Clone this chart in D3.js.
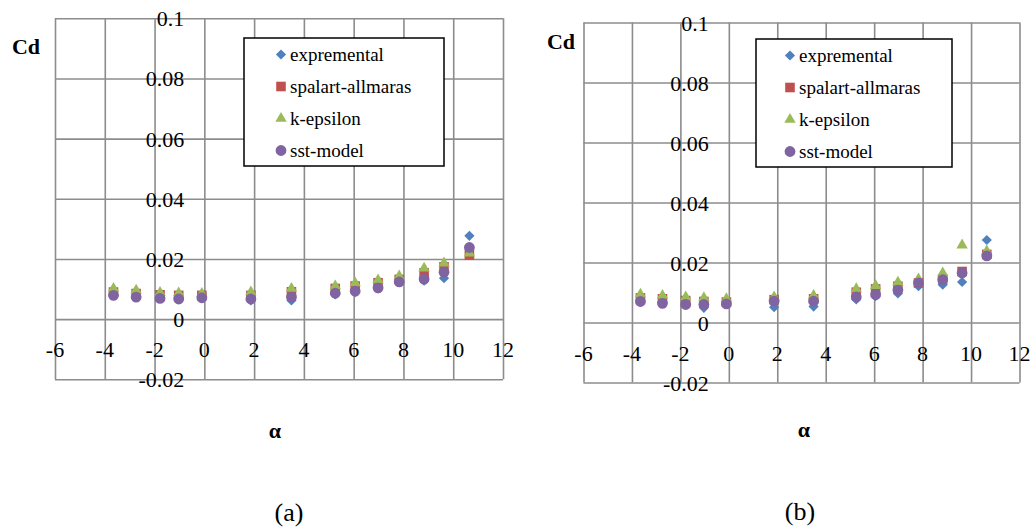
<!DOCTYPE html>
<html>
<head>
<meta charset="utf-8">
<script src="https://cdn.jsdelivr.net/npm/d3@7"></script>
<style>
  body { margin: 0; background: #fff; }
  svg { display: block; }
</style>
</head>
<body>
<svg id="chart" width="1034" height="528"></svg>
<script>
// angle of attack, same for both runs
const alpha = [-3.65, -2.74, -1.78, -1.03, -0.1, 1.87, 3.5, 5.26, 6.06, 6.98, 7.83, 8.83, 9.63, 10.65]

// chart (a)
const expA = [0.0079, 0.0076, 0.0073, 0.0072, 0.0084, 0.0062, 0.0062, 0.0082, 0.009, 0.0102, 0.0125, 0.0128, 0.0136, 0.0277]
const saA = [0.009, 0.0085, 0.0081, 0.0079, 0.0079, 0.0079, 0.0091, 0.0102, 0.011, 0.0121, 0.0132, 0.0154, 0.0174, 0.0213]
const keA = [0.0102, 0.0096, 0.0088, 0.0087, 0.0085, 0.009, 0.0102, 0.011, 0.012, 0.013, 0.0143, 0.0169, 0.0186, 0.0219]
const sstA = [0.0079, 0.0073, 0.0069, 0.0067, 0.0071, 0.0067, 0.0073, 0.0086, 0.0093, 0.0104, 0.0124, 0.0133, 0.0156, 0.0238]

// chart (b)
const expB = [0.007, 0.0065, 0.006, 0.0049, 0.0065, 0.0051, 0.0053, 0.0077, 0.0088, 0.0097, 0.0121, 0.0126, 0.0135, 0.0275]
const saB = [0.0082, 0.0079, 0.0073, 0.007, 0.0068, 0.0076, 0.0079, 0.0101, 0.0112, 0.0121, 0.0132, 0.0145, 0.017, 0.0227]
const keB = [0.0094, 0.009, 0.0085, 0.0082, 0.0079, 0.0085, 0.009, 0.0112, 0.0123, 0.0134, 0.0145, 0.0165, 0.0258, 0.0238]
const sstB = [0.007, 0.0064, 0.006, 0.006, 0.0062, 0.0071, 0.0071, 0.0085, 0.0093, 0.0108, 0.0132, 0.0143, 0.0165, 0.0222]

const seriesNames = ['expremental', 'spalart-allmaras', 'k-epsilon', 'sst-model']
const xTicks = [-6, -4, -2, 0, 2, 4, 6, 8, 10, 12]
const yTicks = [-0.02, 0, 0.02, 0.04, 0.06, 0.08, 0.1]
const yTickLabels = ['-0.02', '0', '0.02', '0.04', '0.06', '0.08', '0.1']

const serif = '"Liberation Serif"'
const colors = ['#4f81bd', '#c0504d', '#9bbb59', '#8064a2']
const shapes = [
  d3.symbol().type(d3.symbolSquare).size(52),   // rotated below -> diamond
  d3.symbol().type(d3.symbolSquare).size(92),
  d3.symbol().type(d3.symbolTriangle).size(56),
  d3.symbol().type(d3.symbolCircle).size(92)
]

const svg = d3.select('#chart')

function label (sel, size, bold) {
  sel.style('font-family', serif)
    .style('font-size', size + 'px')
    .style('font-weight', bold ? 'bold' : 'normal')
  return sel
}

function drawChart (opt) {
  const x = d3.scaleLinear().domain([-6, 12]).range([opt.left, opt.right])
  const y = d3.scaleLinear().domain([-0.02, 0.1]).range([opt.bottom, opt.top])
  const g = svg.append('g')

  // grid via axes
  g.append('g')
    .attr('transform', 'translate(0,' + opt.bottom + ')')
    .call(d3.axisBottom(x).tickValues(xTicks).tickSize(-(opt.bottom - opt.top)).tickFormat(''))
    .call(s => s.select('.domain').remove())
  g.append('g')
    .attr('transform', 'translate(' + opt.left + ',0)')
    .call(d3.axisLeft(y).tickValues(yTicks).tickSize(-(opt.right - opt.left)).tickFormat(''))
    .call(s => s.select('.domain').remove())
  g.selectAll('.tick line').attr('stroke', '#8c8c8c').attr('stroke-width', 1.6)

  // tick labels sit on the axes crossing at 0
  g.append('g').selectAll('text')
    .data(xTicks)
    .join('text')
    .attr('x', d => x(d))
    .attr('y', y(0) + 38)
    .attr('text-anchor', 'middle')
    .call(label, 22)
    .text(d => d)

  g.append('g').selectAll('text')
    .data(yTicks)
    .join('text')
    .attr('x', x(0) - 20)
    .attr('y', d => y(d) + 8)
    .attr('text-anchor', 'end')
    .call(label, 22)
    .text((d, i) => yTickLabels[i])

  // points
  opt.series.forEach(function (vals, si) {
    g.append('g').selectAll('path')
      .data(vals)
      .join('path')
      .attr('d', shapes[si])
      .attr('fill', colors[si])
      .attr('transform', (d, i) => 'translate(' + x(alpha[i]) + ',' + y(d) + ')' + (si === 0 ? ' rotate(45)' : ''))
  })

  // legend
  const lg = g.append('g')
  const [lx, ly0, lw, lh] = opt.legend
  lg.append('rect')
    .attr('x', lx).attr('y', ly0)
    .attr('width', lw).attr('height', lh)
    .attr('fill', '#fff').attr('stroke', '#000').attr('stroke-width', 1.5)
  seriesNames.forEach(function (name, i) {
    const ly = ly0 + 16.5 + i * 32
    lg.append('path')
      .attr('d', shapes[i])
      .attr('fill', colors[i])
      .attr('transform', 'translate(' + (lx + opt.legendMark) + ',' + ly + ')' + (i === 0 ? ' rotate(45)' : ''))
    lg.append('text')
      .attr('x', lx + opt.legendMark + 9)
      .attr('y', ly + 6)
      .call(label, 19)
      .text(name)
  })

  // titles
  g.append('text')
    .attr('x', opt.cd[0]).attr('y', opt.cd[1])
    .attr('text-anchor', 'middle')
    .call(label, 22, true)
    .text('Cd')
  g.append('text')
    .attr('x', opt.alphaLbl[0]).attr('y', opt.alphaLbl[1])
    .attr('text-anchor', 'middle')
    .call(label, 22, true)
    .text('α')
  g.append('text')
    .attr('x', opt.caption[0]).attr('y', opt.caption[1])
    .attr('text-anchor', 'middle')
    .call(label, 26)
    .text(opt.captionText)
}

drawChart({
  left: 55, right: 503, top: 18.3, bottom: 379.3,
  series: [expA, saA, keA, sstA],
  legend: [244, 38, 200, 128], legendMark: 37,
  cd: [26, 54], alphaLbl: [275, 438], caption: [289, 521], captionText: '(a)'
})

drawChart({
  left: 583.5, right: 1019.5, top: 22.5, bottom: 382.5,
  series: [expB, saB, keB, sstB],
  legend: [756, 39, 196, 128], legendMark: 34,
  cd: [561, 49], alphaLbl: [804, 437], caption: [800, 520], captionText: '(b)'
})
</script>
</body>
</html>
